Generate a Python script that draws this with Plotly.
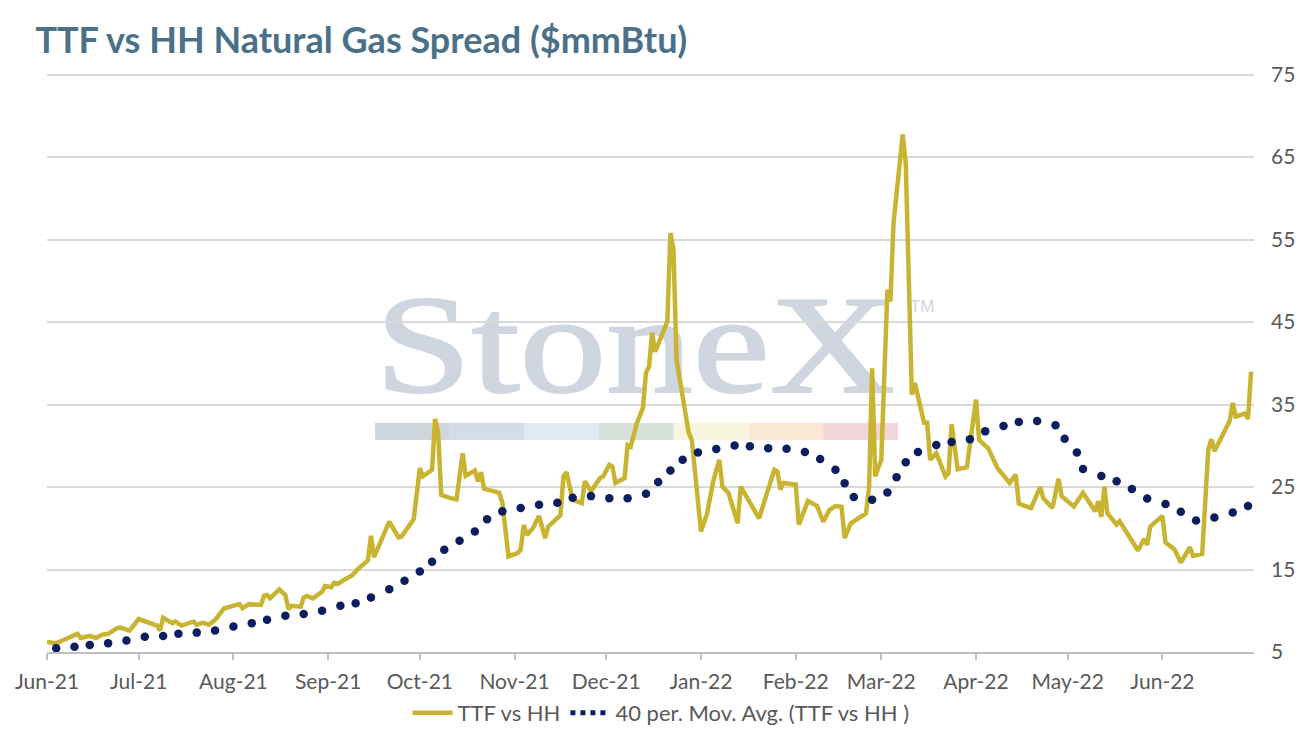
import base64
import plotly.graph_objects as go

# TTF vs HH spread
ttf_dates = [
    "2021-06-01", "2021-06-04", "2021-06-06", "2021-06-10", "2021-06-11", "2021-06-12", "2021-06-15",
    "2021-06-17", "2021-06-19", "2021-06-21", "2021-06-24", "2021-06-25", "2021-06-28", "2021-07-01",
    "2021-07-05", "2021-07-07", "2021-07-08", "2021-07-09", "2021-07-12", "2021-07-13", "2021-07-15",
    "2021-07-17", "2021-07-19", "2021-07-20", "2021-07-22", "2021-07-24", "2021-07-26", "2021-07-29",
    "2021-07-31", "2021-08-03", "2021-08-04", "2021-08-06", "2021-08-10", "2021-08-11", "2021-08-12",
    "2021-08-13", "2021-08-16", "2021-08-18", "2021-08-19", "2021-08-20", "2021-08-23", "2021-08-24",
    "2021-08-25", "2021-08-27", "2021-08-30", "2021-08-31", "2021-09-02", "2021-09-03", "2021-09-04",
    "2021-09-08", "2021-09-09", "2021-09-11", "2021-09-14", "2021-09-15", "2021-09-16", "2021-09-21",
    "2021-09-24", "2021-09-25", "2021-09-29", "2021-10-01", "2021-10-02", "2021-10-05", "2021-10-06",
    "2021-10-07", "2021-10-08", "2021-10-11", "2021-10-13", "2021-10-15", "2021-10-16", "2021-10-19",
    "2021-10-20", "2021-10-21", "2021-10-22", "2021-10-24", "2021-10-27", "2021-10-28", "2021-10-30",
    "2021-11-02", "2021-11-03", "2021-11-04", "2021-11-05", "2021-11-07", "2021-11-09", "2021-11-11",
    "2021-11-12", "2021-11-16", "2021-11-17", "2021-11-18", "2021-11-20", "2021-11-23", "2021-11-24",
    "2021-11-26", "2021-11-29", "2021-11-30", "2021-12-02", "2021-12-03", "2021-12-04", "2021-12-07",
    "2021-12-08", "2021-12-09", "2021-12-11", "2021-12-13", "2021-12-14", "2021-12-15", "2021-12-16",
    "2021-12-17", "2021-12-21", "2021-12-22", "2021-12-23", "2021-12-24", "2021-12-27", "2021-12-28",
    "2021-12-29", "2022-01-01", "2022-01-03", "2022-01-05", "2022-01-07", "2022-01-08", "2022-01-10",
    "2022-01-13", "2022-01-14", "2022-01-20", "2022-01-25", "2022-01-26", "2022-01-27", "2022-01-28",
    "2022-02-01", "2022-02-02", "2022-02-05", "2022-02-08", "2022-02-10", "2022-02-12", "2022-02-14",
    "2022-02-16", "2022-02-17", "2022-02-19", "2022-02-24", "2022-02-25", "2022-02-26", "2022-02-27",
    "2022-03-01", "2022-03-03", "2022-03-04", "2022-03-05", "2022-03-08", "2022-03-09", "2022-03-11",
    "2022-03-12", "2022-03-15", "2022-03-16", "2022-03-17", "2022-03-19", "2022-03-22", "2022-03-23",
    "2022-03-24", "2022-03-26", "2022-03-29", "2022-04-01", "2022-04-02", "2022-04-05", "2022-04-08",
    "2022-04-12", "2022-04-14", "2022-04-15", "2022-04-19", "2022-04-22", "2022-04-23", "2022-04-26",
    "2022-04-28", "2022-04-29", "2022-05-03", "2022-05-06", "2022-05-10", "2022-05-11", "2022-05-12",
    "2022-05-13", "2022-05-14", "2022-05-17", "2022-05-18", "2022-05-24", "2022-05-26", "2022-05-27",
    "2022-05-28", "2022-06-01", "2022-06-02", "2022-06-05", "2022-06-07", "2022-06-10", "2022-06-11",
    "2022-06-14", "2022-06-16", "2022-06-17", "2022-06-18", "2022-06-23", "2022-06-24", "2022-06-25",
    "2022-06-28", "2022-06-29", "2022-06-30",
]
ttf_values = [
    6.2, 6.05, 6.4, 7.1, 7.2, 6.7, 6.95,
    6.7, 7.1, 7.2, 7.9, 7.95, 7.6, 9.0,
    8.5, 8.2, 7.6, 9.15, 8.5, 8.7, 8.2,
    8.5, 8.7, 8.3, 8.55, 8.3, 8.9, 10.3,
    10.5, 10.8, 10.3, 10.8, 10.7, 11.8, 11.9,
    11.5, 12.6, 11.9, 10.2, 10.6, 10.5, 11.6,
    11.8, 11.5, 12.3, 13.0, 12.85, 13.4, 13.25,
    14.2, 14.35, 15.15, 16.1, 19.1, 16.5, 20.8,
    18.9, 19.0, 21.1, 27.3, 26.3, 27.1, 33.25,
    31.55, 24.05, 23.65, 23.5, 29.1, 26.35, 27.0,
    25.7, 26.8, 24.8, 24.6, 24.3, 23.1, 16.6,
    17.0, 17.4, 20.4, 19.2, 20.0, 21.5, 18.8,
    20.2, 21.6, 26.3, 26.8, 23.45, 23.05, 25.7,
    24.5, 26.1, 26.3, 27.7, 27.5, 25.5, 26.1,
    30.1, 29.9, 32.7, 34.6, 38.85, 39.6, 43.7,
    41.4, 45.1, 55.8, 53.8, 40.4, 33.2, 31.55,
    30.7, 19.6, 21.8, 25.7, 28.3, 25.05, 24.3,
    20.6, 25.05, 21.2, 27.1, 26.9, 24.7, 25.5,
    25.3, 20.45, 23.3, 22.7, 20.8, 22.2, 22.7,
    22.6, 18.8, 20.6, 21.8, 25.0, 39.4, 26.3,
    28.3, 48.9, 47.5, 57.0, 67.75, 64.3, 36.2,
    37.6, 32.8, 32.8, 28.3, 29.1, 26.3, 26.7,
    32.6, 27.15, 27.4, 35.6, 30.7, 29.7, 27.3,
    25.5, 26.5, 23.0, 22.45, 25.0, 23.65, 22.45,
    26.0, 23.9, 22.65, 24.3, 22.05, 23.3, 21.4,
    25.05, 21.8, 20.45, 20.85, 17.3, 18.7, 18.0,
    20.2, 21.5, 18.3, 17.4, 15.85, 17.7, 16.65,
    16.9, 29.5, 30.8, 29.35, 33.0, 35.2, 33.55,
    33.9, 33.25, 39.0,
]

# 40 period moving average (sampled where the dots sit)
ma_dates = [
    "2021-06-04", "2021-06-10", "2021-06-15", "2021-06-21", "2021-06-27", "2021-07-03", "2021-07-09",
    "2021-07-14", "2021-07-20", "2021-07-26", "2021-08-01", "2021-08-07", "2021-08-12", "2021-08-18",
    "2021-08-24", "2021-08-30", "2021-09-05", "2021-09-10", "2021-09-15", "2021-09-21", "2021-09-26",
    "2021-10-01", "2021-10-05", "2021-10-09", "2021-10-14", "2021-10-19", "2021-10-23", "2021-10-28",
    "2021-11-03", "2021-11-09", "2021-11-15", "2021-11-20", "2021-11-26", "2021-12-02", "2021-12-08",
    "2021-12-14", "2021-12-18", "2021-12-22", "2021-12-26", "2021-12-31", "2022-01-06", "2022-01-12",
    "2022-01-17", "2022-01-23", "2022-01-29", "2022-02-04", "2022-02-09", "2022-02-14", "2022-02-17",
    "2022-02-20", "2022-02-26", "2022-03-03", "2022-03-06", "2022-03-09", "2022-03-13", "2022-03-19",
    "2022-03-24", "2022-03-30", "2022-04-04", "2022-04-10", "2022-04-15", "2022-04-21", "2022-04-27",
    "2022-04-30", "2022-05-04", "2022-05-06", "2022-05-12", "2022-05-17", "2022-05-22", "2022-05-27",
    "2022-06-02", "2022-06-07", "2022-06-12", "2022-06-18", "2022-06-24", "2022-06-29",
]
ma_values = [
    5.45, 5.65, 5.85, 6.05, 6.4, 6.85, 6.95,
    7.2, 7.35, 7.6, 8.1, 8.5, 8.9, 9.4,
    9.6, 10.0, 10.6, 10.9, 11.6, 12.6, 13.65,
    14.75, 15.95, 17.4, 18.5, 19.6, 21.1, 22.05,
    22.45, 22.85, 23.1, 23.7, 23.9, 23.65, 23.65,
    24.2, 25.6, 27.0, 28.3, 29.2, 29.6, 30.05,
    29.95, 29.7, 29.65, 29.25, 28.4, 27.1, 25.45,
    23.8, 23.45, 24.35, 26.2, 28.0, 29.25, 30.1,
    30.45, 30.8, 31.75, 32.4, 32.9, 33.0, 32.5,
    30.85, 29.2, 27.2, 26.35, 25.7, 24.75, 23.6,
    22.95, 22.0, 20.95, 21.3, 21.9, 22.7,
]

tick_dates = ["2021-06-01", "2021-07-01", "2021-08-01", "2021-09-01", "2021-10-01", "2021-11-01",
              "2021-12-01", "2022-01-01", "2022-02-01", "2022-03-01", "2022-04-01", "2022-05-01",
              "2022-06-01"]
tick_labels = ["Jun-21", "Jul-21", "Aug-21", "Sep-21", "Oct-21", "Nov-21", "Dec-21",
               "Jan-22", "Feb-22", "Mar-22", "Apr-22", "May-22", "Jun-22"]

GOLD = "#C8B431"
NAVY = "#0B1F5E"
GREY_TXT = "#595959"

# StoneX watermark drawn as an svg image under the gridlines
bar_colours = ["#ced5dd", "#d4dce8", "#dfeaf3", "#d4e2d9", "#f8f6df", "#fae7d5", "#f2d5d8"]
rects = ""
for i, c in enumerate(bar_colours):
    rects += '<rect x="%.1f" y="138" width="74.7" height="17" fill="%s"/>' % (5 + i * 74.7, c)
svg = ('<svg xmlns="http://www.w3.org/2000/svg" width="570" height="160" viewBox="0 0 570 160">'
       '<text x="5" y="107" font-family="Liberation Serif, DejaVu Serif, serif" font-size="140" '
       'fill="#cfd6df" stroke="#cfd6df" stroke-width="2" textLength="520" '
       'lengthAdjust="spacingAndGlyphs">StoneX</text>'
       '<text x="540" y="27" font-family="Liberation Sans, sans-serif" font-size="17" '
       'fill="#cfd6df">TM</text>' + rects + '</svg>')
svg_uri = "data:image/svg+xml;base64," + base64.b64encode(svg.encode()).decode()

fig = go.Figure()

fig.add_trace(go.Scatter(x=ttf_dates, y=ttf_values, name="TTF vs HH", mode="lines",
                         line=dict(color=GOLD, width=4.5)))
fig.add_trace(go.Scatter(x=ma_dates, y=ma_values, name="40 per. Mov. Avg. (TTF vs HH )",
                         mode="markers", marker=dict(color=NAVY, size=8.5), showlegend=False))
# legend entry for the dotted average
fig.add_trace(go.Scatter(x=[None], y=[None], name="40 per. Mov. Avg. (TTF vs HH )", mode="lines",
                         line=dict(color=NAVY, width=5, dash="dot")))

# page body adds an 8px margin, so the figure is a little smaller than the window
fig.update_layout(
    width=1306, height=723,
    margin=dict(l=39, r=60, t=65, b=79),
    paper_bgcolor="white", plot_bgcolor="white",
    font=dict(family="Lato, Open Sans, sans-serif", size=21, color=GREY_TXT),
    title=dict(text="<b>TTF vs HH Natural Gas Spread ($mmBtu)</b>", x=0.021, xanchor="left",
               y=0.955, yanchor="middle", yref="container",
               font=dict(family="Lato, Open Sans, sans-serif", size=36, color="#4B7189")),
    showlegend=True,
    legend=dict(orientation="h", x=0.5, xanchor="center", xref="container",
                y=0.025, yanchor="middle", yref="container",
                font=dict(size=22, color=GREY_TXT), itemwidth=40),
    images=[dict(source=svg_uri, xref="paper", yref="paper", x=0.2676, y=0.634,
                 sizex=0.4722, sizey=0.2763, sizing="stretch", xanchor="left", yanchor="top",
                 layer="below")],
)

fig.update_xaxes(range=["2021-06-01", "2022-06-30 23:00"], tickvals=tick_dates, ticktext=tick_labels,
                 showgrid=False, showline=True, linecolor="#bfbfbf", linewidth=1.5,
                 ticks="outside", ticklen=6, tickcolor="#bfbfbf", tickwidth=1.5,
                 ticklabelstandoff=4, tickfont=dict(size=21, color=GREY_TXT), automargin=False)
fig.update_yaxes(range=[5, 75.2], tick0=5, dtick=10, side="right", showgrid=True, gridcolor="#d9d9d9",
                 gridwidth=1.5, zeroline=False, showline=False, ticks="",
                 ticklabelstandoff=16, tickfont=dict(size=21, color=GREY_TXT), automargin=False)

fig.write_html("out.html")
